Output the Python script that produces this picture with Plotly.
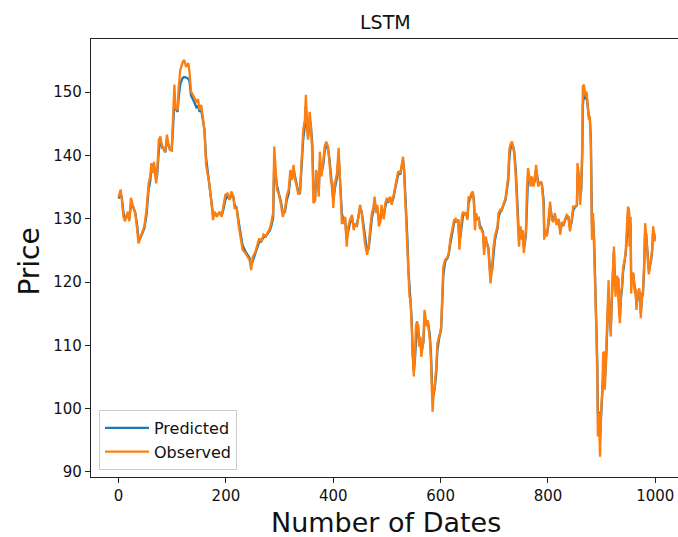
import plotly.graph_objects as go

# Dates (x positions)
dates = [0, 4, 6, 9, 12, 17, 20, 23, 27, 31, 34, 37, 40, 45, 48, 52, 54, 56, 59, 61, 64, 66, 70, 72, 75, 78, 81, 84, 87, 90,
         93, 96, 99, 101, 104, 106, 110, 112, 115, 119, 122, 126, 130, 132, 135, 140, 145, 148, 151, 154, 157, 160, 163, 166,
         169, 173, 176, 179, 183, 188, 192, 195, 199, 203, 207, 210, 214, 216, 220, 224, 227, 231, 236, 240, 244, 247, 250,
         255, 258, 262, 266, 270, 274, 278, 282, 285, 288, 290, 295, 298, 302, 306, 310, 313, 317, 320, 323, 326, 329, 332,
         335, 338, 341, 344, 347, 349, 351, 353, 356, 358, 361, 363, 366, 368, 371, 373, 375, 378, 381, 384, 387, 390, 393,
         396, 398, 400, 403, 407, 410, 413, 416, 419, 422, 425, 428, 431, 435, 438, 441, 444, 447, 450, 453, 456, 459, 463,
         466, 469, 472, 475, 477, 480, 482, 485, 487, 490, 494, 497, 500, 503, 506, 509, 512, 515, 518, 521, 525, 528, 530,
         532, 534, 536, 538, 540, 542, 544, 546, 548, 550, 552, 554, 556, 558, 560, 562, 564, 566, 568, 570, 572, 574, 576,
         578, 580, 582, 584, 585, 587, 589, 592, 594, 597, 599, 601, 603, 605, 608, 610, 613, 615, 618, 620, 623, 625, 628,
         630, 633, 635, 637, 640, 642, 645, 647, 650, 652, 655, 657, 660, 662, 664, 666, 669, 671, 673, 676, 679, 681, 684,
         686, 689, 691, 693, 696, 698, 701, 703, 706, 708, 711, 713, 716, 718, 721, 723, 726, 728, 730, 733, 735, 737, 740,
         742, 744, 746, 748, 749, 751, 753, 755, 757, 759, 761, 763, 765, 768, 770, 773, 775, 778, 780, 782, 784, 787, 789,
         792, 793, 795, 798, 801, 804, 807, 810, 813, 816, 820, 823, 826, 829, 832, 835, 838, 841, 844, 847, 850, 854, 855,
         858, 860, 862, 864, 865, 867, 870, 872, 874, 876, 878, 880, 881, 882, 884, 886, 888, 890, 892, 893, 895, 897, 899,
         901, 903, 905, 906, 908, 911, 913, 914, 917, 919, 921, 923, 924, 926, 928, 931, 932, 934, 936, 938, 940, 943, 945,
         947, 949, 951, 952, 954, 955, 957, 959, 962, 963, 965, 967, 970, 972, 973, 975, 977, 979, 981, 983, 985, 986, 988,
         990, 992, 994, 996, 998, 999]

observed = [133.5, 134.6, 133.0, 130.3, 129.6, 131.1, 129.6, 133.3, 131.9, 130.9, 128.8, 126.1, 126.9, 128.2, 128.8, 131.4,
            134.0, 135.6, 136.7, 138.8, 137.2, 139.0, 135.6, 137.7, 142.5, 143.0, 141.2, 141.2, 140.6, 143.3, 141.7, 140.9,
            140.9, 145.6, 151.2, 147.5, 147.2, 150.9, 153.5, 154.6, 155.1, 154.0, 154.6, 153.3, 150.1, 149.3, 148.5, 148.9,
            147.2, 148.0, 145.9, 144.0, 138.5, 137.2, 135.6, 132.5, 129.8, 131.1, 130.3, 131.1, 130.3, 131.9, 133.8, 134.0,
            133.0, 134.3, 133.5, 131.7, 131.7, 128.8, 127.2, 125.1, 124.6, 124.0, 123.5, 121.9, 124.0, 124.8, 125.6, 126.9,
            126.4, 127.5, 127.2, 128.0, 128.5, 129.6, 131.0, 141.4, 134.6, 134.0, 132.5, 130.3, 131.4, 133.5, 134.6, 137.7,
            136.1, 138.5, 136.1, 135.1, 133.8, 134.3, 139.8, 144.0, 145.6, 149.6, 144.6, 142.5, 146.9, 145.1, 140.4, 132.5,
            132.8, 137.7, 136.7, 133.5, 140.6, 136.7, 138.8, 141.4, 142.2, 141.4, 138.8, 135.6, 136.0, 131.7, 135.6, 137.2,
            141.2, 135.1, 129.3, 129.3, 130.3, 125.6, 128.8, 129.8, 130.6, 128.2, 129.3, 128.8, 130.9, 132.2, 130.9, 128.8,
            126.1, 124.3, 125.6, 128.8, 130.9, 131.9, 133.5, 130.9, 132.2, 128.8, 129.3, 132.2, 129.9, 132.5, 133.3, 132.7,
            133.5, 132.2, 133.5, 135.1, 135.9, 137.5, 137.2, 139.3, 139.8, 137.2, 133.5, 129.3, 125.6, 120.3, 117.7, 117.2,
            113.0, 106.7, 105.1, 108.2, 113.0, 113.8, 113.0, 109.8, 111.4, 108.2, 109.8, 110.9, 115.6, 113.8, 113.0, 114.0,
            112.4, 110.9, 107.7, 103.5, 99.5, 102.4, 103.5, 106.7, 110.3, 111.4, 111.9, 113.0, 118.2, 122.4, 123.5, 123.6,
            124.0, 124.5, 126.7, 127.5, 128.5, 129.8, 130.0, 129.5, 129.8, 125.1, 127.7, 130.6, 131.1, 130.6, 131.0, 129.8,
            133.5, 133.3, 134.0, 134.3, 132.5, 128.2, 130.9, 130.0, 130.2, 128.5, 128.3, 127.7, 124.3, 127.2, 126.2, 125.1,
            122.4, 119.8, 122.4, 125.1, 127.2, 127.7, 128.8, 130.9, 131.4, 131.2, 132.2, 132.5, 133.3, 134.6, 136.7, 140.9,
            141.7, 142.2, 141.4, 140.4, 136.7, 133.0, 129.8, 125.6, 128.2, 128.8, 126.7, 128.2, 124.6, 126.5, 128.2, 135.1,
            138.0, 136.7, 135.1, 136.7, 135.1, 136.2, 138.5, 136.4, 135.1, 135.6, 135.9, 135.1, 131.9, 126.7, 128.2, 127.2,
            129.8, 132.7, 129.8, 129.5, 130.9, 129.0, 130.0, 127.5, 129.5, 129.0, 130.0, 130.6, 130.3, 128.0, 129.8, 131.9,
            131.9, 132.2, 138.8, 136.7, 132.2, 135.1, 141.9, 150.9, 151.2, 149.3, 150.1, 148.3, 145.9, 146.0, 141.4, 133.0,
            126.7, 130.9, 125.6, 118.2, 113.0, 104.6, 95.6, 99.3, 92.4, 99.8, 102.4, 108.8, 109.0, 103.0, 107.7, 115.6, 120.3,
            115.6, 111.4, 118.2, 123.0, 125.6, 121.2, 117.7, 121.0, 120.5, 116.1, 113.5, 118.2, 119.3, 122.4, 123.5, 125.1,
            128.0, 131.9, 131.5, 125.6, 130.3, 118.2, 120.9, 121.5, 118.2, 119.0, 115.6, 118.0, 119.0, 117.0, 114.3, 118.0,
            118.5, 122.4, 129.3, 127.7, 125.1, 123.5, 121.2, 122.7, 123.5, 125.1, 128.8, 127.5, 126.4]

predicted = [133.2, 133.8, 133.4, 131.0, 130.0, 130.6, 130.0, 132.2, 131.9, 131.0, 129.3, 127.0, 126.8, 127.8, 128.5, 130.6,
             132.8, 134.7, 136.0, 137.8, 137.4, 138.3, 136.2, 137.0, 140.8, 142.2, 141.5, 140.9, 140.5, 142.2, 141.7, 140.9,
             140.8, 143.6, 148.6, 147.4, 146.9, 149.2, 151.3, 152.2, 152.4, 152.3, 152.1, 151.8, 149.5, 148.6, 147.6, 147.8,
             146.9, 147.2, 145.8, 144.0, 139.6, 137.6, 136.0, 133.3, 130.6, 130.8, 130.6, 130.9, 130.5, 131.4, 133.0, 133.6,
             133.1, 133.7, 133.4, 132.2, 131.7, 129.4, 127.8, 125.8, 124.9, 124.3, 123.8, 122.6, 123.4, 124.4, 125.2, 126.3,
             126.4, 127.1, 127.2, 127.7, 128.2, 129.0, 130.2, 138.8, 135.3, 134.2, 132.9, 131.0, 131.1, 132.8, 134.0, 136.6,
             136.3, 137.8, 136.6, 135.4, 134.2, 134.1, 138.2, 142.6, 144.6, 147.8, 145.1, 143.0, 145.6, 145.0, 141.6, 134.9,
             132.9, 136.3, 136.6, 134.3, 139.0, 137.4, 138.3, 140.6, 141.7, 141.3, 139.4, 136.6, 136.0, 132.9, 134.8, 136.6,
             140.0, 136.2, 130.9, 129.6, 130.0, 126.8, 128.1, 129.3, 130.2, 128.8, 129.1, 128.9, 130.4, 131.7, 131.1, 129.4,
             127.0, 124.9, 125.3, 127.9, 130.1, 131.4, 132.8, 131.4, 131.8, 129.7, 129.4, 131.4, 130.4, 131.9, 132.9, 132.7,
             133.3, 132.5, 133.2, 134.6, 135.6, 137.0, 137.1, 138.7, 139.3, 137.8, 134.6, 130.8, 127.0, 122.0, 118.8, 117.6,
             114.2, 108.5, 106.0, 107.6, 111.6, 113.2, 113.1, 110.7, 111.1, 109.1, 109.6, 110.6, 114.2, 113.9, 113.3, 113.8,
             112.8, 111.5, 108.8, 105.0, 101.5, 102.2, 103.2, 105.8, 109.2, 111.0, 111.7, 112.6, 116.7, 121.0, 123.0, 123.5,
             123.8, 124.3, 126.0, 127.1, 128.1, 129.3, 129.8, 129.6, 129.7, 126.6, 127.2, 129.7, 130.7, 130.7, 130.9, 130.1,
             132.5, 133.2, 133.7, 134.1, 133.0, 129.6, 130.2, 130.0, 130.1, 129.0, 128.5, 127.9, 125.3, 126.5, 126.3, 125.4,
             123.2, 120.8, 121.9, 124.2, 126.5, 127.4, 128.4, 130.2, 131.1, 131.2, 131.9, 132.3, 133.0, 134.2, 136.0, 139.5,
             141.0, 141.8, 141.5, 140.7, 137.8, 134.3, 131.0, 127.0, 127.6, 128.4, 127.2, 127.8, 125.5, 126.1, 127.6, 133.2,
             136.8, 136.7, 135.5, 136.3, 135.4, 135.9, 137.8, 136.8, 135.5, 135.5, 135.8, 135.3, 132.8, 128.4, 128.0, 127.4,
             129.1, 131.9, 130.4, 129.7, 130.5, 129.4, 129.8, 128.1, 129.1, 129.0, 129.8, 130.4, 130.3, 128.6, 129.4, 131.3,
             131.8, 132.1, 137.0, 136.8, 133.4, 134.5, 140.2, 147.8, 149.8, 148.9, 149.4, 148.2, 146.2, 145.9, 142.5, 135.5,
             129.0, 130.0, 126.8, 120.2, 115.0, 107.0, 99.0, 99.5, 95.5, 99.2, 101.8, 107.2, 108.6, 104.5, 107.0, 113.8, 118.8,
             116.2, 112.4, 117.0, 121.8, 124.8, 122.0, 118.6, 120.4, 120.4, 117.1, 114.4, 117.4, 118.9, 121.6, 123.1, 124.6,
             127.2, 130.8, 131.2, 126.9, 129.3, 120.5, 120.6, 121.2, 118.8, 118.9, 116.4, 117.5, 118.7, 117.4, 115.0, 117.4,
             118.3, 121.6, 127.8, 127.6, 125.6, 124.0, 121.8, 122.5, 123.3, 124.8, 128.0, 127.6, 126.7]

series_names = ["Predicted", "Observed"]
series_colors = ["#1f77b4", "#ff7f0e"]
x_ticks = [0, 200, 400, 600, 800, 1000]
y_ticks = [90, 100, 110, 120, 130, 140, 150]
title_text = "LSTM"
x_label = "Number of Dates"
y_label = "Price"

W, H = 678, 537
ML, MT, MB, MR = 91, 39, 60, 0
PW = W - ML - MR
PH = H - MT - MB

def px_x(px):
    return (px - ML) / PW

def px_y(py):
    return (H - MB - py) / PH

FONT = "DejaVu Sans"

fig = go.Figure()
for name, vals, col in zip(series_names, [predicted, observed], series_colors):
    fig.add_trace(go.Scatter(x=dates, y=vals, mode="lines", name=name,
                             line=dict(color=col, width=2.3)))

axis_common = dict(showgrid=False, zeroline=False, showline=True, linecolor="#222",
                   linewidth=1.2, ticks="outside", ticklen=5, tickwidth=1.2, tickcolor="#222",
                   tickfont=dict(family=FONT, size=15, color="#111"))

fig.update_xaxes(range=[-51.4, 1042.3], tickvals=x_ticks, mirror=True, **axis_common)
fig.update_yaxes(range=[89.2, 158.4], tickvals=y_ticks, mirror=False, **axis_common)

fig.update_layout(
    width=W, height=H,
    margin=dict(l=ML, r=MR, t=MT, b=MB, pad=0),
    plot_bgcolor="white", paper_bgcolor="white",
    showlegend=True,
    legend=dict(x=px_x(99), y=px_y(470), xanchor="left", yanchor="bottom",
                bgcolor="rgba(255,255,255,0.8)", bordercolor="#cccccc", borderwidth=1,
                itemwidth=44,
                font=dict(family=FONT, size=16, color="#111"), traceorder="normal"),
    annotations=[
        dict(text=title_text, x=px_x(386), y=px_y(21.7), xref="paper", yref="paper",
             showarrow=False, xanchor="center", yanchor="middle",
             font=dict(family=FONT, size=19, color="#111")),
        dict(text=x_label, x=px_x(386), y=px_y(522), xref="paper", yref="paper",
             showarrow=False, xanchor="center", yanchor="middle",
             font=dict(family=FONT, size=27, color="#111")),
        dict(text=y_label, x=px_x(28.6), y=px_y(262), xref="paper", yref="paper",
             showarrow=False, xanchor="center", yanchor="middle", textangle=-90,
             font=dict(family=FONT, size=28, color="#111")),
    ],
)

fig.write_html("out.html")
